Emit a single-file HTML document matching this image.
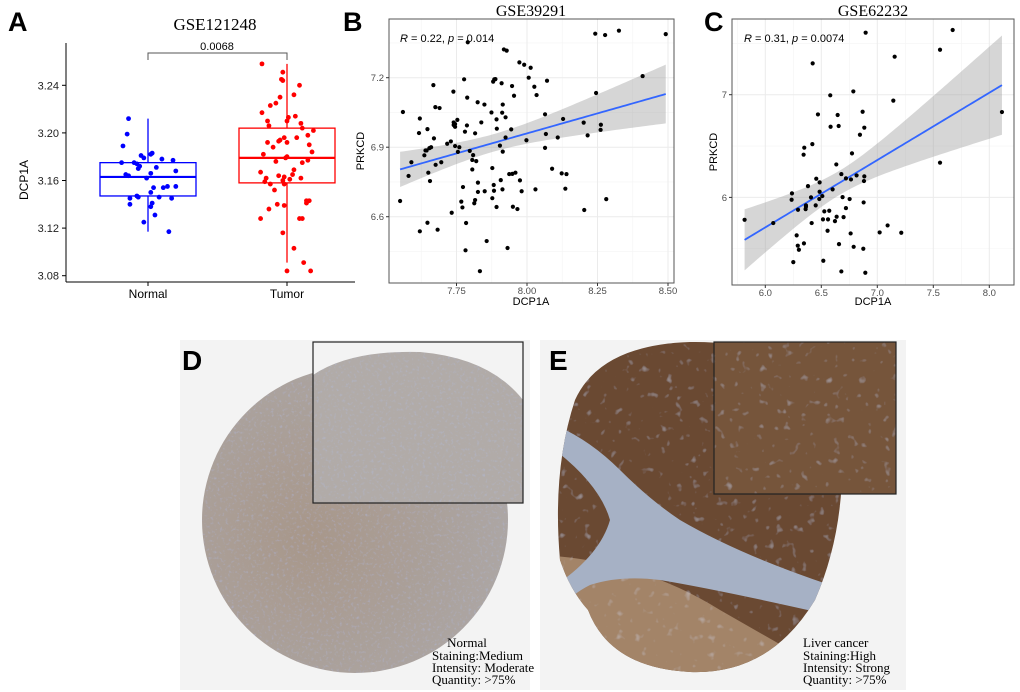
<!DOCTYPE html>
<html><head><meta charset="utf-8">
<style>
html,body{margin:0;padding:0;background:#fff;}
svg{display:block;font-family:"Liberation Sans",sans-serif;}
.serif{font-family:"Liberation Serif",serif;}
</style></head>
<body>
<svg id="fig" width="1020" height="692" viewBox="0 0 1020 692" xmlns="http://www.w3.org/2000/svg">
<defs>
  <filter id="tex" x="0" y="0" width="100%" height="100%">
    <feTurbulence type="fractalNoise" baseFrequency="0.35" numOctaves="2" seed="3" result="n"/>
    <feColorMatrix in="n" type="matrix" values="0 0 0 0 0.45  0 0 0 0 0.55  0 0 0 0 0.85  0 0 0 0.9 -0.5" result="b"/>
    <feComposite in="b" in2="SourceGraphic" operator="in" result="bc"/>
    <feMerge><feMergeNode in="SourceGraphic"/><feMergeNode in="bc"/></feMerge>
  </filter>
  <filter id="tex2" x="0" y="0" width="100%" height="100%">
    <feTurbulence type="fractalNoise" baseFrequency="0.12" numOctaves="2" seed="7" result="n"/>
    <feColorMatrix in="n" type="matrix" values="0 0 0 0 0.75  0 0 0 0 0.78  0 0 0 0 0.88  0 0 0 1.1 -0.72" result="b"/>
    <feComposite in="b" in2="SourceGraphic" operator="in" result="bc"/>
    <feMerge><feMergeNode in="SourceGraphic"/><feMergeNode in="bc"/></feMerge>
  </filter>
  <radialGradient id="gD" cx="0.35" cy="0.55" r="0.65">
    <stop offset="0" stop-color="#a8978a"/><stop offset="1" stop-color="#aca6a4"/>
  </radialGradient>
  <clipPath id="clipB"><rect x="389" y="19" width="285" height="264"/></clipPath>
  <clipPath id="clipC"><rect x="732" y="19" width="282" height="266"/></clipPath>
  <clipPath id="clipE"><path d="M575,400 Q600,345 690,342 Q800,340 840,420 Q850,520 815,600 Q770,675 690,672 Q610,668 588,610 Q570,590 560,560 Q552,470 575,400 Z"/></clipPath>
</defs>

<!-- Panel A -->
<g id="panelA">
  <text x="8" y="31" font-size="27" font-weight="bold">A</text>
  <text class="serif" x="215" y="30" font-size="17" text-anchor="middle">GSE121248</text>
  <line x1="66" y1="43" x2="66" y2="282" stroke="#000" stroke-width="1"/>
  <line x1="66" y1="282" x2="355" y2="282" stroke="#000" stroke-width="1"/>
  <text x="28" y="180" font-size="12" text-anchor="middle" transform="rotate(-90 28 180)">DCP1A</text>
  <path d="M148,60 V53 H287 V60" fill="none" stroke="#555" stroke-width="1"/>
  <text x="217" y="50" font-size="11" text-anchor="middle">0.0068</text>
  <g id="aTicks"></g><g id="aBoxes"></g><g id="aPts"></g>
</g>

<!-- Panel B -->
<g id="panelB">
  <text x="343" y="31" font-size="27" font-weight="bold">B</text>
  <text class="serif" x="531" y="16" font-size="16" text-anchor="middle">GSE39291</text>
  <g id="bGrid" clip-path="url(#clipB)"></g>
  <g id="bBand" clip-path="url(#clipB)"></g>
  <g id="bPts"></g>
  <rect x="389" y="19" width="285" height="264" fill="none" stroke="#555" stroke-width="1"/>
  <g id="bTicks"></g>
  <text x="400" y="42" font-size="11"><tspan font-style="italic">R</tspan> = 0.22, <tspan font-style="italic">p</tspan> = 0.014</text>
  <text x="364" y="151" font-size="11" text-anchor="middle" transform="rotate(-90 364 151)">PRKCD</text>
  <text x="531" y="305" font-size="11" text-anchor="middle">DCP1A</text>
</g>

<!-- Panel C -->
<g id="panelC">
  <text x="704" y="31" font-size="27" font-weight="bold">C</text>
  <text class="serif" x="873" y="16" font-size="16" text-anchor="middle">GSE62232</text>
  <g id="cGrid" clip-path="url(#clipC)"></g>
  <g id="cBand" clip-path="url(#clipC)"></g>
  <g id="cPts"></g>
  <rect x="732" y="19" width="282" height="266" fill="none" stroke="#555" stroke-width="1"/>
  <g id="cTicks"></g>
  <text x="744" y="42" font-size="11"><tspan font-style="italic">R</tspan> = 0.31, <tspan font-style="italic">p</tspan> = 0.0074</text>
  <text x="717" y="152" font-size="11" text-anchor="middle" transform="rotate(-90 717 152)">PRKCD</text>
  <text x="873" y="305" font-size="11" text-anchor="middle">DCP1A</text>
</g>

<!-- Panel D -->
<g id="panelD">
  <rect x="180" y="340" width="350" height="350" fill="#f3f3f3"/>
  <circle cx="355" cy="520" r="153" fill="url(#gD)" filter="url(#tex)"/>
  <rect x="313" y="342" width="210" height="161" fill="#f3f3f3"/>
  <path d="M313,375 Q350,350 420,352 Q490,358 523,400 L523,503 L313,503 Z" fill="#b1aba8" filter="url(#tex)"/>
  <rect x="313" y="342" width="210" height="161" fill="none" stroke="#222" stroke-width="1.2"/>
  <text x="182" y="370" font-size="28" font-weight="bold">D</text>
  <g class="serif" font-size="13">
    <text x="467" y="647" text-anchor="middle">Normal</text>
    <text x="432" y="660">Staining:Medium</text>
    <text x="432" y="672">Intensity: Moderate</text>
    <text x="432" y="684">Quantity: &gt;75%</text>
  </g>
</g>

<!-- Panel E -->
<g id="panelE">
  <rect x="540" y="340" width="366" height="350" fill="#f3f3f3"/>
  <g clip-path="url(#clipE)">
    <rect x="540" y="330" width="320" height="360" fill="#6a4a30" filter="url(#tex2)"/>
    <path d="M540,555 Q640,560 720,610 L860,690 L540,690 Z" fill="#a38468" filter="url(#tex2)"/>
    <path d="M555,425 Q590,440 620,470 Q650,500 680,520 Q740,555 830,585 L830,615 Q720,590 660,580 Q620,575 590,585 Q570,595 560,610 L556,585 Q600,555 610,520 Q600,485 555,450 Z" fill="#a6b1c5"/>
  </g>
  <rect x="714" y="342" width="182" height="152" fill="#76543a" filter="url(#tex2)"/>
  <rect x="714" y="342" width="182" height="152" fill="none" stroke="#222" stroke-width="1.2"/>
  <text x="549" y="370" font-size="28" font-weight="bold">E</text>
  <g class="serif" font-size="13">
    <text x="803" y="647">Liver cancer</text>
    <text x="803" y="660">Staining:High</text>
    <text x="803" y="672">Intensity: Strong</text>
    <text x="803" y="684">Quantity: &gt;75%</text>
  </g>
</g>
</svg>

<script>
// ---------- Panel A data ----------
const aCategories = ["Normal", "Tumor"];
const aTicks = [3.08, 3.12, 3.16, 3.20, 3.24];
const boxNormal = [3.117, 3.147, 3.163, 3.175, 3.212];
const boxTumor = [3.091, 3.158, 3.179, 3.204, 3.258];
const normalValues = [3.212,3.199,3.189,3.175,3.175,3.181,3.179,3.182,3.183,3.178,3.177,3.174,3.172,3.170,3.171,3.168,3.165,3.164,3.166,3.162,3.154,3.154,3.155,3.155,3.150,3.145,3.147,3.146,3.146,3.145,3.140,3.141,3.138,3.131,3.125,3.117];
const normalJitter = [-0.14,-0.15,-0.18,-0.19,-0.10,-0.05,-0.03,0.02,0.03,0.10,0.18,-0.08,-0.06,-0.07,0.06,0.20,-0.16,-0.14,0.02,-0.01,0.04,0.11,0.14,0.20,0.02,-0.13,-0.08,-0.07,0.08,0.17,-0.13,0.03,0.02,0.05,-0.03,0.15];
const tumorValues = [3.258,3.251,3.245,3.244,3.240,3.232,3.230,3.225,3.223,3.217,3.214,3.213,3.210,3.210,3.208,3.206,3.204,3.202,3.198,3.192,3.196,3.196,3.194,3.192,3.193,3.190,3.188,3.184,3.182,3.180,3.179,3.176,3.175,3.177,3.169,3.167,3.165,3.164,3.163,3.162,3.161,3.160,3.162,3.159,3.157,3.152,3.157,3.143,3.143,3.141,3.140,3.139,3.136,3.128,3.128,3.128,3.116,3.103,3.091,3.084,3.084];
const tumorJitter = [-0.18,-0.03,-0.04,-0.03,0.09,0.05,-0.05,-0.08,-0.12,-0.18,0.06,0.01,0.0,-0.14,0.10,-0.13,0.11,0.19,0.15,-0.14,0.07,-0.02,-0.05,0.0,-0.06,0.16,-0.10,0.18,-0.17,0.0,-0.01,-0.08,0.11,0.15,0.05,-0.19,0.04,-0.06,-0.02,-0.15,0.02,-0.03,0.10,-0.16,-0.12,-0.09,-0.02,0.14,0.16,0.14,-0.07,-0.02,-0.13,-0.19,0.09,0.11,-0.03,0.05,0.12,0.0,0.17];

// ---------- Panel B data ----------
const bXTicks = [7.75, 8.00, 8.25, 8.50];
const bYTicks = [6.6, 6.9, 7.2];
const bX = [7.55,7.56,7.58,7.59,7.617,7.62,7.62,7.636,7.64,7.647,7.647,7.65,7.644,7.654,7.656,7.66,7.668,7.67,7.675,7.676,7.683,7.69,7.696,7.717,7.73,7.733,7.739,7.74,7.74,7.745,7.745,7.753,7.755,7.745,7.76,7.767,7.771,7.773,7.777,7.78,7.782,7.784,7.787,7.788,7.79,7.797,7.806,7.806,7.809,7.813,7.816,7.816,7.82,7.825,7.826,7.826,7.833,7.838,7.85,7.849,7.857,7.874,7.877,7.877,7.88,7.884,7.888,7.882,7.883,7.892,7.892,7.893,7.904,7.907,7.91,7.912,7.914,7.914,7.913,7.918,7.928,7.924,7.924,7.931,7.937,7.944,7.947,7.948,7.95,7.954,7.959,7.966,7.973,7.975,7.981,7.99,7.998,8.006,8.013,8.026,8.03,8.034,8.064,8.064,8.067,8.071,8.089,8.109,8.123,8.128,8.136,8.14,8.201,8.203,8.215,8.242,8.245,8.261,8.262,8.277,8.281,8.326,8.41,8.492];
const bY = [6.668,7.052,6.776,6.835,6.961,7.024,6.537,6.865,6.886,6.574,6.978,6.79,6.886,6.896,6.754,6.90,7.168,6.938,7.073,6.824,6.544,7.069,6.835,6.915,6.925,6.617,7.14,7.007,6.996,6.988,6.905,7.018,6.88,7.0,6.90,6.665,6.64,6.728,7.193,6.967,6.455,6.573,6.994,7.114,7.353,6.884,6.845,6.804,6.866,6.658,6.96,6.672,6.84,7.094,6.747,6.707,6.365,7.007,6.71,7.084,6.495,7.05,6.81,6.68,7.183,7.193,7.194,6.737,6.712,7.02,6.642,6.98,6.907,6.758,7.176,7.049,7.084,6.881,6.718,7.322,7.317,7.029,6.942,6.465,6.784,6.977,7.164,6.785,6.643,7.122,6.79,6.633,7.266,6.757,6.71,7.256,6.93,7.2,7.243,7.161,6.718,7.125,7.042,6.897,6.957,7.187,6.807,6.942,6.787,7.022,6.721,6.784,7.006,6.629,6.951,7.39,7.134,6.975,6.997,7.384,6.676,7.403,7.207,7.388];

// ---------- Panel C data ----------
const cXTicks = [6.0, 6.5, 7.0, 7.5, 8.0];
const cYTicks = [6, 7];
const cX = [5.815,6.071,6.238,6.235,6.25,6.28,6.29,6.292,6.30,6.342,6.348,6.345,6.36,6.363,6.363,6.381,6.408,6.414,6.423,6.42,6.45,6.455,6.47,6.485,6.485,6.482,6.509,6.515,6.518,6.527,6.556,6.56,6.571,6.58,6.583,6.601,6.622,6.637,6.634,6.646,6.655,6.658,6.679,6.679,6.69,6.699,6.774,6.786,6.72,6.72,6.753,6.762,6.765,6.789,6.815,6.845,6.869,6.884,6.881,6.884,6.878,6.875,6.896,6.893,7.021,7.092,7.143,7.155,7.214,7.56,7.56,7.673,8.113];
const cY = [5.782,5.75,6.039,5.977,5.37,5.63,5.53,5.88,5.49,6.416,6.484,5.552,5.886,5.909,5.922,6.11,6.0,5.75,7.305,6.519,5.922,6.182,6.808,6.146,6.055,5.984,6.013,5.786,5.383,5.864,5.675,5.786,5.87,6.994,6.688,6.078,5.769,5.812,6.321,6.802,6.695,5.545,6.227,5.279,6.003,5.808,6.429,7.032,6.185,5.896,5.984,5.649,6.175,5.519,6.214,6.61,6.834,6.679,6.159,6.205,5.951,5.5,7.604,5.266,5.659,5.727,6.942,7.37,5.656,7.438,6.338,7.63,6.831];

// ---------- helpers / scales ----------
const NS = "http://www.w3.org/2000/svg";
function mk(tag, attrs, parent){ const e=document.createElementNS(NS,tag); for(const k in attrs) e.setAttribute(k,attrs[k]); parent.appendChild(e); return e; }
const yA = v => 85.3 + (3.24 - v) * 1190;
const xA = i => [148, 287][i];
const xB = v => 527 + (v - 8) * 282;
const yB = v => 77.7 + (7.2 - v) * 231.7;
const xC = v => 765.3 + (v - 6) * 112;
const yC = v => 94.7 + (7 - v) * 102.7;

// ---------- Panel A ----------
(function(){
  const tg = document.getElementById('aTicks');
  aTicks.forEach(t=>{
    const l = mk('line',{x1:62,x2:66,y1:yA(t),y2:yA(t),stroke:'#000'},tg);
    
    
    const tx = mk('text',{x:59,y:yA(t)+4,'font-size':11,'text-anchor':'end',fill:'#222'},tg);
    tx.textContent = t.toFixed(2);
    
    
  });
  aCategories.forEach((c,i)=>{
    const l = mk('line',{x1:xA(i),x2:xA(i),y1:282,y2:286,stroke:'#000'},tg);
    
    
    const tx = mk('text',{x:xA(i),y:298,'font-size':12,'text-anchor':'middle'},tg);
    tx.textContent = c;
    
    
  });
  const bg = document.getElementById('aBoxes');
  [[boxNormal,'#0000ff'],[boxTumor,'#ff0000']].forEach(([b,col],i)=>{
    const cx = xA(i), hw = 48;
    const g = mk('g',{},bg);
    
    
    mk('line',{x1:cx,x2:cx,y1:yA(b[4]),y2:yA(b[3]),stroke:col,'stroke-width':1.3},g);
    mk('line',{x1:cx,x2:cx,y1:yA(b[1]),y2:yA(b[0]),stroke:col,'stroke-width':1.3},g);
    mk('rect',{x:cx-hw,y:yA(b[3]),width:2*hw,height:yA(b[1])-yA(b[3]),fill:'#fff',stroke:col,'stroke-width':1.3},g);
    mk('line',{x1:cx-hw,x2:cx+hw,y1:yA(b[2]),y2:yA(b[2]),stroke:col,'stroke-width':2.2},g);
  });
  const pg = document.getElementById('aPts');
  [[normalValues,normalJitter,'#0000ff',0],[tumorValues,tumorJitter,'#ff0000',1]].forEach(([vals,jit,col,i])=>{
    vals.forEach((v,k)=>{
      const p = mk('circle',{cx:xA(i)+jit[k]*139,cy:yA(v),r:2.4,fill:col},pg);
      
      
    });
  });
})();

// ---------- regression + CI ----------
function regress(xs, ys){
  const n=xs.length; let mx=0,my=0; for(let i=0;i<n;i++){mx+=xs[i];my+=ys[i];} mx/=n; my/=n;
  let sxx=0,sxy=0; for(let i=0;i<n;i++){sxx+=(xs[i]-mx)**2; sxy+=(xs[i]-mx)*(ys[i]-my);}
  const b=sxy/sxx, a=my-b*mx; let sse=0; for(let i=0;i<n;i++){sse+=(ys[i]-a-b*xs[i])**2;}
  const s=Math.sqrt(sse/(n-2));
  return {a,b,s,mx,sxx,n};
}
function scatterPanel(xs, ys, xT, yT, xs_, ys_, frame, gridId, bandId, ptsId, ticksId, xMinor, yMinor, tag){
  const gg = document.getElementById(gridId);
  const [L,T,R,Bt] = frame;
  yMinor.forEach(v=>{ mk('line',{x1:L,x2:R,y1:ys_(v),y2:ys_(v),stroke:'#f4f4f4','stroke-width':0.6},gg); });
  xMinor.forEach(v=>{ mk('line',{x1:xs_(v),x2:xs_(v),y1:T,y2:Bt,stroke:'#f4f4f4','stroke-width':0.6},gg); });
  yT.forEach(v=>{ const l=mk('line',{x1:L,x2:R,y1:ys_(v),y2:ys_(v),stroke:'#ebebeb','stroke-width':1},gg);
      });
  xT.forEach(v=>{ const l=mk('line',{x1:xs_(v),x2:xs_(v),y1:T,y2:Bt,stroke:'#ebebeb','stroke-width':1},gg);
      });
  const tg = document.getElementById(ticksId);
  yT.forEach(v=>{
    mk('line',{x1:L-3,x2:L,y1:ys_(v),y2:ys_(v),stroke:'#333'},tg);
    const t=mk('text',{x:L-5,y:ys_(v)+3.5,'font-size':9.5,'text-anchor':'end',fill:'#4d4d4d'},tg);
    t.textContent = (tag==='b') ? v.toFixed(1) : String(v);
    
    
  });
  xT.forEach(v=>{
    mk('line',{x1:xs_(v),x2:xs_(v),y1:Bt,y2:Bt+3,stroke:'#333'},tg);
    const t=mk('text',{x:xs_(v),y:Bt+11,'font-size':9.5,'text-anchor':'middle',fill:'#4d4d4d'},tg);
    t.textContent = (tag==='b') ? v.toFixed(2) : v.toFixed(1);
    
    
  });
  const r = regress(xs, ys);
  const x0 = Math.min(...xs), x1 = Math.max(...xs);
  const up=[], lo=[], mid=[];
  for(let i=0;i<=80;i++){
    const x = x0+(x1-x0)*i/80, y = r.a+r.b*x;
    const se = r.s*Math.sqrt(1/r.n + (x-r.mx)**2/r.sxx)*1.98;
    up.push([xs_(x),ys_(y+se)]); lo.push([xs_(x),ys_(y-se)]); mid.push([xs_(x),ys_(y)]);
  }
  const bg = document.getElementById(bandId);
  const d = 'M'+up.map(p=>p.join(',')).join(' L')+' L'+lo.reverse().map(p=>p.join(',')).join(' L')+' Z';
  const band = mk('path',{d:d,fill:'#999',opacity:0.4},bg);
  
  
  const pg = document.getElementById(ptsId);
  xs.forEach((x,i)=>{
    const c = mk('circle',{cx:xs_(x),cy:ys_(ys[i]),r:2.1,fill:'#000'},pg);
    
    
  });
  const ln = mk('polyline',{points:mid.map(p=>p.join(',')).join(' '),fill:'none',stroke:'#3366ff','stroke-width':1.8},bg);
  
  
}
scatterPanel(bX,bY,bXTicks,bYTicks,xB,yB,[389,19,674,283],'bGrid','bBand','bPts','bTicks',[7.625,7.875,8.125,8.375],[6.45,6.75,7.05,7.35],'b');
scatterPanel(cX,cY,cXTicks,cYTicks,xC,yC,[732,19,1014,285],'cGrid','cBand','cPts','cTicks',[5.75,6.25,6.75,7.25,7.75],[5.5,6.5,7.5],'c');
</script>
</body></html>
